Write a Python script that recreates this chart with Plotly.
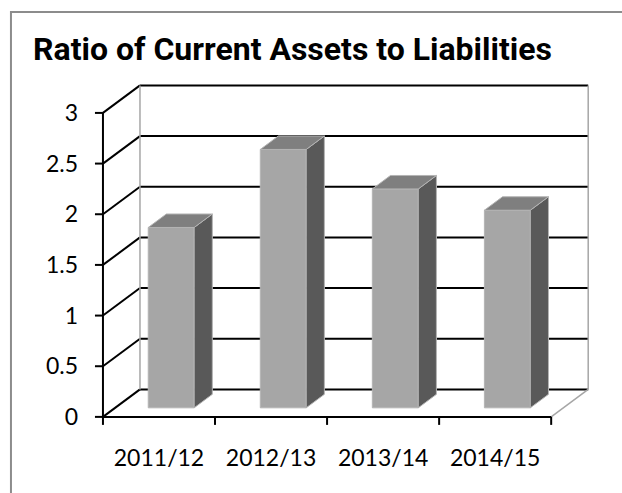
import plotly.graph_objects as go

# ---- data -------------------------------------------------------------
years = ["2011/12", "2012/13", "2013/14", "2014/15"]
ratio = [1.78, 2.55, 2.16, 1.95]
y_ticks = [0, 0.5, 1, 1.5, 2, 2.5, 3]
y_tick_text = ["0", "0.5", "1", "1.5", "2", "2.5", "3"]

# ---- pseudo-3D projection settings (data units) ------------------------
W, H = 622, 493
PX_X = 112.0          # pixels per category
PX_Y = 101.33         # pixels per unit of ratio
DX = 37.0 / PX_X      # depth offset along x for the full floor depth
DY = 27.5 / PX_Y      # depth offset along y for the full floor depth
X_RANGE = [-0.58, 3.9]
Y_RANGE = [-0.08, 3.315]
L_M, T_M = 94, 81
PLOT_W = (X_RANGE[1] - X_RANGE[0]) * PX_X
PLOT_H = (Y_RANGE[1] - Y_RANGE[0]) * PX_Y
R_M = W - L_M - PLOT_W
B_M = H - T_M - PLOT_H

X0, X1 = -0.5, len(years) - 0.5
Y_TOP = max(y_ticks)
BAR_HALF = 0.205      # half bar width, category units
D_FRONT, D_BACK = 0.33, 0.82   # bar depth span (fraction of floor depth)

FRONT_C, SIDE_C, TOP_C, EDGE_C = "#a6a6a6", "#595959", "#7f7f7f", "#b4b4b4"
WALL_EDGE_C = "#a6a6a6"


def proj(x, v, d):
    return x + DX * d, v + DY * d


fig = go.Figure()


def seg(p, q, color, width):
    fig.add_trace(go.Scatter(x=[p[0], q[0]], y=[p[1], q[1]], mode="lines",
                             line=dict(color=color, width=width),
                             hoverinfo="skip", showlegend=False))


def face(pts, fill):
    xs = [p[0] for p in pts] + [pts[0][0]]
    ys = [p[1] for p in pts] + [pts[0][1]]
    fig.add_trace(go.Scatter(x=xs, y=ys, mode="lines", fill="toself",
                             fillcolor=fill, line=dict(color=EDGE_C, width=1),
                             hoverinfo="skip", showlegend=False))


# back wall and side wall gridlines
for t in y_ticks:
    seg(proj(X0, t, 1), proj(X1, t, 1), "black", 2)
    seg(proj(X0, t, 0), proj(X0, t, 1), "black", 2)

# wall edges
seg(proj(X0, 0, 1), proj(X0, Y_TOP, 1), WALL_EDGE_C, 1.5)
seg(proj(X1, 0, 1), proj(X1, Y_TOP, 1), WALL_EDGE_C, 1.5)
seg(proj(X1, 0, 0), proj(X1, 0, 1), WALL_EDGE_C, 1.5)

# front axes
seg((X0, 0), (X1, 0), "black", 2)
seg((X0, 0), (X0, Y_TOP), "black", 2)
for t in y_ticks:
    seg((X0 - 8 / PX_X, t), (X0, t), "black", 2)
for i in range(len(years) + 1):
    b = X0 + i
    seg((b, 0), (b, -8 / PX_Y), "black", 2)

# bars
for i, v in enumerate(ratio):
    l, r = i - BAR_HALF, i + BAR_HALF
    face([proj(l, 0, D_FRONT), proj(r, 0, D_FRONT),
          proj(r, v, D_FRONT), proj(l, v, D_FRONT)], FRONT_C)
    face([proj(r, 0, D_FRONT), proj(r, 0, D_BACK),
          proj(r, v, D_BACK), proj(r, v, D_FRONT)], SIDE_C)
    face([proj(l, v, D_FRONT), proj(r, v, D_FRONT),
          proj(r, v, D_BACK), proj(l, v, D_BACK)], TOP_C)


def px_to_paper_x(px):
    return (px - L_M) / PLOT_W


def px_to_paper_y(py):
    return (H - B_M - py) / PLOT_H


# chart frame
fig.add_shape(type="rect", xref="paper", yref="paper",
              x0=px_to_paper_x(11), x1=px_to_paper_x(640),
              y0=px_to_paper_y(520), y1=px_to_paper_y(12),
              line=dict(color="#8c8c8c", width=2), layer="below")

fig.update_layout(
    width=W, height=H,
    margin=dict(l=L_M, r=R_M, t=T_M, b=B_M, autoexpand=False),
    paper_bgcolor="white", plot_bgcolor="white",
    title=dict(text="<b>Ratio of Current Assets to Liabilities</b>",
               x=33 / W, xanchor="left", xref="container",
               y=1 - 49 / H, yanchor="middle", yref="container",
               font=dict(family="Roboto, Liberation Sans Narrow, Arial Narrow, sans-serif",
                         size=32, color="black")),
    font=dict(family="Lato, Carlito, Calibri, sans-serif", size=23, color="black"),
    xaxis=dict(range=X_RANGE, showgrid=False, zeroline=False, showline=False,
               tickmode="array", tickvals=list(range(len(years))), ticktext=years,
               ticks="", ticklabelstandoff=17, fixedrange=True),
    yaxis=dict(range=Y_RANGE, showgrid=False, zeroline=False, showline=False,
               tickmode="array", tickvals=y_ticks, ticktext=y_tick_text,
               ticks="", ticklabelstandoff=15, fixedrange=True),
)

fig.write_html("out.html")
